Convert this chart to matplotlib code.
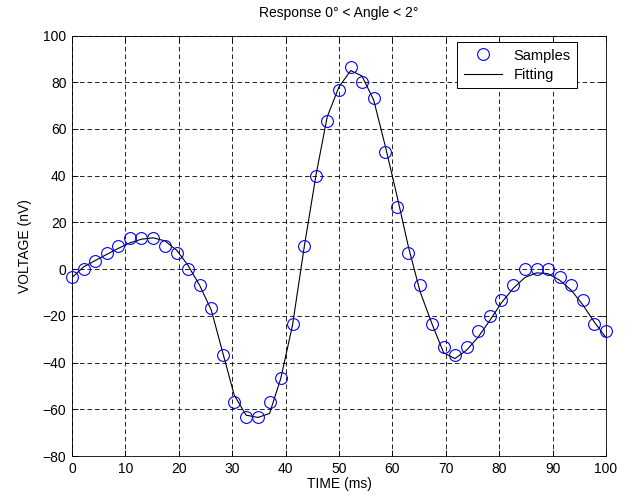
import numpy as np
import matplotlib
matplotlib.use("Agg")
import matplotlib.pyplot as plt

# sample times (ms), 47 samples from 0 to 100
time_ms = [0.0, 2.2, 4.3, 6.5, 8.7, 10.9, 13.0, 15.2, 17.4, 19.6,
           21.7, 23.9, 26.1, 28.3, 30.4, 32.6, 34.8, 37.0, 39.1, 41.3,
           43.5, 45.7, 47.8, 50.0, 52.2, 54.3, 56.5, 58.7, 60.9, 63.0,
           65.2, 67.4, 69.6, 71.7, 73.9, 76.1, 78.3, 80.4, 82.6, 84.8,
           87.0, 89.1, 91.3, 93.5, 95.7, 97.8, 100.0]

# measured samples (nV)
samples = [-3.3, 0.0, 3.3, 6.7, 10.0, 13.3, 13.3, 13.3, 10.0, 6.7,
           0.0, -6.7, -16.7, -36.7, -56.7, -63.3, -63.3, -56.7, -46.7, -23.3,
           10.0, 40.0, 63.3, 76.7, 86.7, 80.0, 73.3, 50.0, 26.7, 6.7,
           -6.7, -23.3, -33.3, -36.7, -33.3, -26.7, -20.0, -13.3, -6.7, 0.0,
           0.0, 0.0, -3.3, -6.7, -13.3, -23.3, -26.7]

# fitted curve evaluated at the sample times (nV)
fitting = [-3.6, 1.0, 3.6, 6.3, 8.9, 11.3, 12.8, 13.4, 12.1, 8.1,
           1.7, -6.9, -17.6, -36.3, -54.0, -62.5, -63.5, -61.8, -46.8, -24.0,
           9.6, 40.3, 65.2, 78.0, 85.0, 82.7, 72.4, 52.4, 31.0, 9.6,
           -9.7, -23.3, -35.8, -38.3, -34.7, -29.0, -21.8, -14.5, -8.3, -3.6,
           -1.6, -1.9, -4.7, -9.0, -15.4, -22.6, -29.3]

plt.rcParams['font.family'] = ['Liberation Sans', 'DejaVu Sans']
plt.rcParams['font.size'] = 10

fig = plt.figure(figsize=(6.33, 5.01), dpi=100)
ax = fig.add_axes([0.1137, 0.0898, 0.8436, 0.8393])

ax.plot(time_ms, samples, linestyle='none', marker='o', markersize=8.5,
        markerfacecolor='none', markeredgecolor='#0000ff', markeredgewidth=0.8,
        label='Samples', clip_on=False, zorder=3)
ax.plot(time_ms, fitting, color='black', linewidth=0.8, label='Fitting', zorder=2)

ax.set_xlim(0, 100)
ax.set_ylim(-80, 100)
ax.set_xticks(np.arange(0, 101, 10))
ax.set_yticks(np.arange(-80, 101, 20))

ax.grid(True, color='black', linestyle=(0, (5.5, 3.5)), linewidth=0.6)
ax.tick_params(direction='in', top=True, right=True, length=4, width=0.6, pad=4)
for s in ax.spines.values():
    s.set_linewidth(0.6)

ax.set_title('Response 0° < Angle < 2°', fontsize=10, pad=13)
ax.set_xlabel('TIME (ms)', labelpad=1)
ax.set_ylabel('VOLTAGE (nV)', labelpad=8)

leg = ax.legend(loc='upper right', bbox_to_anchor=(577 / 633, 1 - 42 / 501),
                bbox_transform=fig.transFigure, fancybox=False, framealpha=1,
                edgecolor='black', borderpad=0.45, handlelength=2.6,
                handletextpad=0.8, borderaxespad=0, labelspacing=0.35,
                fontsize=10.5)
leg.get_frame().set_linewidth(0.7)

fig.savefig('out.png', dpi=100)
